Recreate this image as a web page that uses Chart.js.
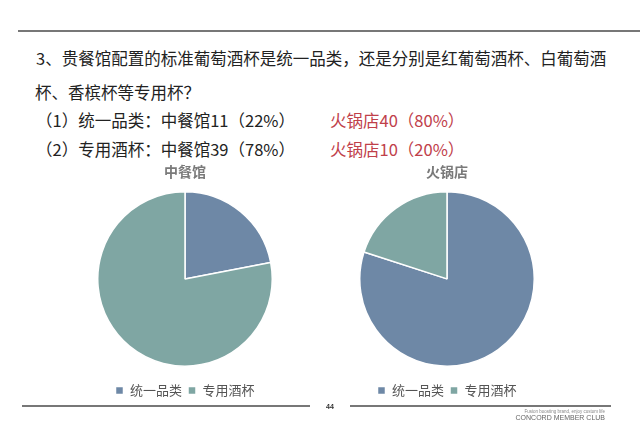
<!DOCTYPE html>
<html>
<head>
<meta charset="utf-8">
<script src="https://cdn.jsdelivr.net/npm/chart.js@4"></script>
<style>
  html, body { margin: 0; padding: 0; background: #fff; }
  body { width: 640px; height: 445px; position: relative; overflow: hidden;
         font-family: "Noto Sans CJK SC", "Noto Sans", sans-serif; }
  .line { position: absolute; background: #777; height: 1.5px; }
  .txt { position: absolute; white-space: nowrap; font-size: 16.5px; line-height: 20px; color: #222; }
  .red { color: #c0404a; }
  .box { position: absolute; }
</style>
</head>
<body>

<div class="line" style="left:18px; top:30px; width:622px;"></div>

<div class="txt" style="left:36px; top:48px;">3、贵餐馆配置的标准葡萄酒杯是统一品类，还是分别是红葡萄酒杯、白葡萄酒</div>
<div class="txt" style="left:35px; top:82px;">杯、香槟杯等专用杯？</div>
<div class="txt" style="left:36px; top:110px;" id="row1"></div>
<div class="txt red" style="left:330px; top:110px;" id="row1b"></div>
<div class="txt" style="left:36px; top:139px;" id="row2"></div>
<div class="txt red" style="left:330px; top:139px;" id="row2b"></div>

<div class="box" style="left:97px; top:160px; width:176px; height:247px;"><canvas id="pie1"></canvas></div>
<div class="box" style="left:359px; top:160px; width:176px; height:247px;"><canvas id="pie2"></canvas></div>

<div class="line" style="left:22px; top:405px; width:288px;"></div>
<div class="line" style="left:350px; top:405px; width:261px;"></div>
<div style="position:absolute; left:322px; top:403px; width:16px; text-align:center; font:bold 7px 'Liberation Sans', sans-serif; color:#333;">44</div>
<div style="position:absolute; right:35px; top:409px; font:4.5px 'Liberation Sans', sans-serif; color:#888; white-space:nowrap;">Fusion boosting brand, enjoy custom life</div>
<div style="position:absolute; right:35px; top:414px; font:7px 'Liberation Sans', sans-serif; color:#666; white-space:nowrap;">CONCORD MEMBER CLUB</div>

<script>
// categories and values
var categories = ['统一品类', '专用酒杯'];
var groups = ['中餐馆', '火锅店'];
var chineseRestaurant = [11, 39];
var hotpot = [40, 10];
var chinesePct = [22, 78];
var hotpotPct = [80, 20];

var colors = ['#6e88a6', '#7fa6a3'];
var font = '"Noto Sans CJK SC", sans-serif';

document.getElementById('row1').textContent = '（1）' + categories[0] + '：' + groups[0] + chineseRestaurant[0] + '（' + chinesePct[0] + '%）';
document.getElementById('row1b').textContent = groups[1] + hotpot[0] + '（' + hotpotPct[0] + '%）';
document.getElementById('row2').textContent = '（2）' + categories[1] + '：' + groups[0] + chineseRestaurant[1] + '（' + chinesePct[1] + '%）';
document.getElementById('row2b').textContent = groups[1] + hotpot[1] + '（' + hotpotPct[1] + '%）';

function makePie(id, title, values) {
  var ctx = document.getElementById(id).getContext('2d');
  return new Chart(ctx, {
    type: 'pie',
    data: {
      labels: categories,
      datasets: [{
        data: values,
        backgroundColor: colors,
        borderColor: '#ffffff',
        borderWidth: 1.5
      }]
    },
    options: {
      responsive: true,
      maintainAspectRatio: false,
      animation: false,
      layout: { padding: 0 },
      plugins: {
        title: {
          display: true,
          text: title,
          color: '#7a7a7a',
          font: { size: 14, weight: 'bold', family: font },
          padding: { top: 3, bottom: 0 }
        },
        legend: {
          position: 'bottom',
          labels: {
            boxWidth: 8,
            boxHeight: 8,
            padding: 6,
            color: '#555',
            font: { size: 13, family: font }
          }
        },
        tooltip: { enabled: false }
      }
    }
  });
}

makePie('pie1', groups[0], chineseRestaurant);
makePie('pie2', groups[1], hotpot);
</script>
</body>
</html>
